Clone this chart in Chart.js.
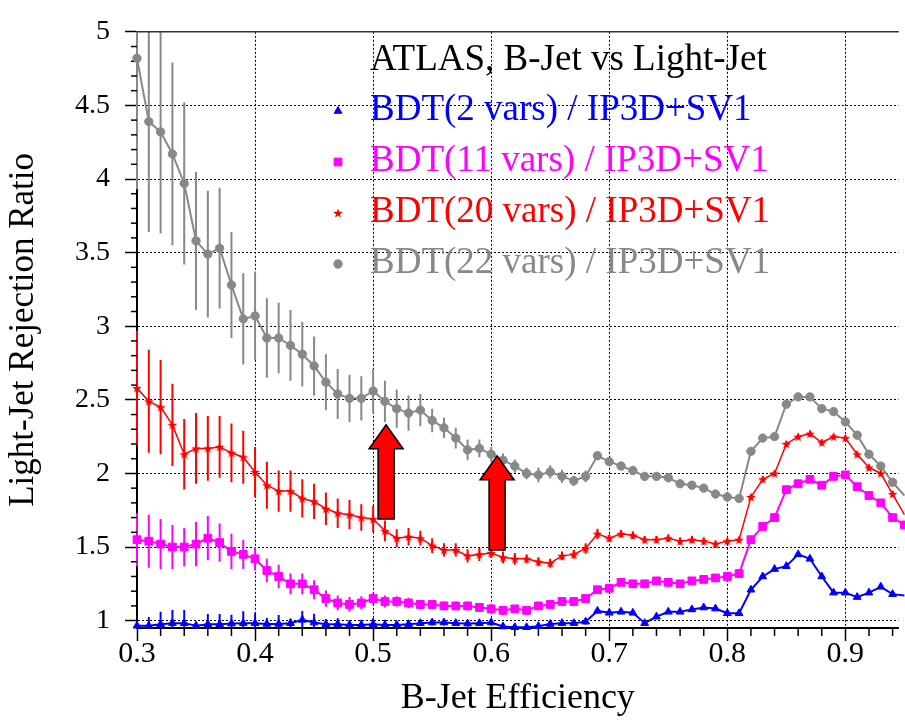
<!DOCTYPE html>
<html>
<head>
<meta charset="utf-8">
<script src="https://cdn.jsdelivr.net/npm/chart.js@4/dist/chart.umd.min.js"></script>
<style>
  html, body { margin: 0; padding: 0; background: #fff; }
  #wrap { width: 905px; height: 720px; }
</style>
</head>
<body>
<div id="wrap"><canvas id="chart" width="905" height="720"></canvas></div>
<script>
// b-jet efficiency points
const effs = [
  0.30, 0.31, 0.32, 0.33, 0.34, 0.35, 0.36, 0.37, 0.38, 0.39,
  0.40, 0.41, 0.42, 0.43, 0.44, 0.45, 0.46, 0.47, 0.48, 0.49,
  0.50, 0.51, 0.52, 0.53, 0.54, 0.55, 0.56, 0.57, 0.58, 0.59,
  0.60, 0.61, 0.62, 0.63, 0.64, 0.65, 0.66, 0.67, 0.68, 0.69,
  0.70, 0.71, 0.72, 0.73, 0.74, 0.75, 0.76, 0.77, 0.78, 0.79,
  0.80, 0.81, 0.82, 0.83, 0.84, 0.85, 0.86, 0.87, 0.88, 0.89,
  0.90, 0.91, 0.92, 0.93, 0.94, 0.95
];

const bdt2 = [
  0.965, 0.965, 0.975, 0.983, 0.983, 0.965, 0.975, 0.975, 0.98, 0.983,
  0.983, 0.978, 0.978, 0.983, 1.005, 0.987, 0.976, 0.976, 0.971, 0.971,
  0.976, 0.971, 0.971, 0.976, 0.983, 0.987, 0.987, 0.983, 0.98, 0.983,
  0.987, 0.96, 0.955, 0.955, 0.962, 0.978, 0.983, 0.983, 0.993, 1.066,
  1.053, 1.06, 1.053, 0.983, 1.027, 1.06, 1.06, 1.076, 1.089, 1.082,
  1.05, 1.05, 1.21, 1.30, 1.35, 1.37, 1.45, 1.42, 1.30, 1.19,
  1.19, 1.16, 1.19, 1.23, 1.18, 1.17
];
const bdt2Err = [
  0.03, 0.06, 0.085, 0.09, 0.09, 0.03, 0.07, 0.07, 0.06, 0.08,
  0.07, 0.04, 0.06, 0.03, 0.06, 0.06, 0.035, 0.04, 0.03, 0.035,
  0.04, 0.035, 0.025, 0.025, 0.02, 0.02, 0.02, 0.02, 0.02, 0.02,
  0.02, 0.02, 0.02, 0.02, 0.02, 0.02, 0.02, 0.02, 0.02, 0.015,
  0.015, 0.015, 0.015, 0.015, 0.015, 0.015, 0.015, 0.015, 0.015, 0.015,
  0.015, 0.015, 0.015, 0.015, 0.015, 0.015, 0.015, 0.015, 0.015, 0.015,
  0.015, 0.015, 0.015, 0.015, 0.015, 0.015
];

const bdt11 = [
  1.55, 1.54, 1.52, 1.50, 1.50, 1.52, 1.56, 1.53, 1.47, 1.45,
  1.42, 1.34, 1.30, 1.25, 1.25, 1.21, 1.15, 1.12, 1.11, 1.12,
  1.15, 1.13, 1.13, 1.12, 1.11, 1.11, 1.10, 1.10, 1.10, 1.09,
  1.08, 1.07, 1.08, 1.07, 1.10, 1.11, 1.13, 1.13, 1.15, 1.21,
  1.22, 1.26, 1.25, 1.25, 1.27, 1.26, 1.25, 1.27, 1.28, 1.29,
  1.30, 1.32, 1.55, 1.64, 1.70, 1.89, 1.93, 1.96, 1.92, 1.98,
  1.99, 1.91, 1.85, 1.80, 1.70, 1.65
];
const bdt11Err = [
  0.18, 0.18, 0.17, 0.15, 0.13, 0.15, 0.15, 0.13, 0.12, 0.10,
  0.08, 0.08, 0.08, 0.07, 0.07, 0.065, 0.055, 0.05, 0.05, 0.045,
  0.04, 0.04, 0.035, 0.035, 0.03, 0.03, 0.03, 0.03, 0.03, 0.03,
  0.03, 0.03, 0.025, 0.025, 0.025, 0.025, 0.025, 0.025, 0.025, 0.02,
  0.02, 0.02, 0.02, 0.02, 0.02, 0.02, 0.02, 0.02, 0.02, 0.02,
  0.02, 0.02, 0.02, 0.02, 0.02, 0.02, 0.02, 0.02, 0.02, 0.02,
  0.02, 0.02, 0.02, 0.02, 0.02, 0.02
];

const bdt20 = [
  2.58, 2.49, 2.45, 2.33, 2.13, 2.17, 2.17, 2.18, 2.14, 2.11,
  2.01, 1.92, 1.88, 1.88, 1.83, 1.81, 1.76, 1.73, 1.72, 1.70,
  1.69, 1.61, 1.56, 1.57, 1.56, 1.51, 1.48, 1.48, 1.44, 1.45,
  1.46, 1.43, 1.42, 1.42, 1.40, 1.39, 1.44, 1.45, 1.49, 1.59,
  1.56, 1.59, 1.58, 1.55, 1.55, 1.56, 1.54, 1.55, 1.54, 1.52,
  1.54, 1.55, 1.84, 1.96, 2.00, 2.20, 2.25, 2.27, 2.21, 2.25,
  2.24, 2.13, 2.04, 2.00, 1.86, 1.72
];
const bdt20Err = [
  0.39, 0.35, 0.32, 0.28, 0.24, 0.24, 0.22, 0.21, 0.20, 0.18,
  0.17, 0.16, 0.14, 0.14, 0.13, 0.12, 0.11, 0.10, 0.10, 0.09,
  0.09, 0.07, 0.06, 0.06, 0.05, 0.05, 0.045, 0.045, 0.045, 0.045,
  0.035, 0.04, 0.04, 0.03, 0.03, 0.03, 0.03, 0.03, 0.035, 0.035,
  0.025, 0.025, 0.025, 0.025, 0.025, 0.025, 0.025, 0.025, 0.025, 0.025,
  0.02, 0.02, 0.02, 0.02, 0.02, 0.02, 0.02, 0.02, 0.02, 0.02,
  0.02, 0.02, 0.02, 0.02, 0.02, 0.02
];

const bdt22 = [
  4.82, 4.39, 4.32, 4.17, 3.97, 3.58, 3.49, 3.53, 3.28, 3.05,
  3.07, 2.92, 2.92, 2.87, 2.81, 2.73, 2.62, 2.54, 2.51, 2.51,
  2.56, 2.49, 2.44, 2.41, 2.43, 2.36, 2.31, 2.24, 2.16, 2.17,
  2.13, 2.09, 2.05, 2.00, 1.99, 2.01, 1.98, 1.95, 1.98, 2.12,
  2.08, 2.05, 2.02, 1.98, 1.98, 1.97, 1.93, 1.92, 1.90, 1.86,
  1.84, 1.83, 2.15, 2.24, 2.25, 2.47, 2.52, 2.52, 2.44, 2.42,
  2.35, 2.26, 2.13, 2.05, 1.94, 1.85
];
const bdt22Err = [
  0.89, 0.75, 0.69, 0.62, 0.55, 0.47, 0.43, 0.41, 0.36, 0.31,
  0.30, 0.27, 0.24, 0.24, 0.22, 0.20, 0.19, 0.17, 0.16, 0.15,
  0.15, 0.14, 0.13, 0.12, 0.11, 0.08, 0.07, 0.07, 0.07, 0.06,
  0.05, 0.045, 0.045, 0.04, 0.05, 0.045, 0.045, 0.035, 0.04, 0.02,
  0.02, 0.02, 0.02, 0.02, 0.02, 0.02, 0.02, 0.02, 0.02, 0.02,
  0.02, 0.02, 0.02, 0.02, 0.02, 0.02, 0.02, 0.02, 0.02, 0.02,
  0.02, 0.02, 0.02, 0.02, 0.02, 0.02
];

const legendTitle = 'ATLAS, B-Jet vs Light-Jet';
const seriesLabels = [
  'BDT(2 vars) / IP3D+SV1',
  'BDT(11 vars) / IP3D+SV1',
  'BDT(20 vars) / IP3D+SV1',
  'BDT(22 vars) / IP3D+SV1'
];

// the two red arrows, in data units
const arrows = [
  { x: 0.511, from: 1.69, to: 2.33 },
  { x: 0.605, from: 1.48, to: 2.12 }
];

const serif = 'Liberation Serif';
const onStep = (v, s) => Math.abs(v / s - Math.round(v / s)) < 1e-6;
const pts = ys => effs.map((x, i) => ({ x: x, y: ys[i] }));

// tick positions: x every 0.02 (labels each 0.1), y every 0.1 (labels each 0.5)
function tickList(from, to, step) {
  const out = [];
  const n = Math.round((to - from) / step);
  for (let i = 0; i <= n; i++) out.push({ value: Math.round((from + i * step) * 1000) / 1000 });
  return out;
}

// small filled star for the 20 vars series
function starImage(color, size) {
  const c = document.createElement('canvas');
  c.width = size; c.height = size;
  const g = c.getContext('2d');
  const r = size / 2, ri = r * 0.42;
  g.fillStyle = color;
  g.beginPath();
  for (let i = 0; i < 10; i++) {
    const a = -Math.PI / 2 + i * Math.PI / 5;
    const rr = i % 2 ? ri : r;
    g.lineTo(r + rr * Math.cos(a), r + 0.5 + rr * Math.sin(a));
  }
  g.closePath();
  g.fill();
  return c;
}

function series(label, ys, errs, color, style, radius, width) {
  return {
    label: label,
    data: pts(ys),
    errors: errs,
    borderColor: color,
    backgroundColor: color,
    pointBackgroundColor: color,
    pointBorderColor: color,
    pointStyle: style,
    pointRadius: radius,
    pointBorderWidth: 1,
    borderWidth: width,
    tension: 0,
    clip: false
  };
}

const errorBars = {
  id: 'errorBars',
  beforeDatasetsDraw(chart) {
    const { ctx, chartArea: a, scales: { x, y } } = chart;
    ctx.save();
    ctx.beginPath();
    ctx.rect(a.left - 2, a.top, a.right - a.left + 2, a.bottom - a.top);
    ctx.clip();
    chart.data.datasets.forEach(ds => {
      ctx.strokeStyle = ds.borderColor;
      ctx.lineWidth = 2;
      ds.data.forEach((p, i) => {
        const e = ds.errors[i];
        const px = x.getPixelForValue(p.x);
        ctx.beginPath();
        ctx.moveTo(px, y.getPixelForValue(p.y - e));
        ctx.lineTo(px, y.getPixelForValue(p.y + e));
        ctx.stroke();
      });
    });
    ctx.restore();
  }
};

const frame = {
  id: 'frame',
  beforeDatasetsDraw(chart) {
    const { ctx, chartArea: a, scales: { x, y } } = chart;
    ctx.save();
    ctx.strokeStyle = '#000';
    ctx.lineWidth = 1.5;
    // minor ticks
    x.ticks.forEach(t => {
      if (onStep(t.value, 0.1)) return;
      const px = x.getPixelForValue(t.value);
      ctx.beginPath(); ctx.moveTo(px, a.bottom); ctx.lineTo(px, a.bottom + 8); ctx.stroke();
    });
    y.ticks.forEach(t => {
      if (onStep(t.value, 0.5)) return;
      const py = y.getPixelForValue(t.value);
      ctx.beginPath(); ctx.moveTo(a.left - 6, py); ctx.lineTo(a.left, py); ctx.stroke();
    });
    // top border
    ctx.strokeStyle = '#333';
    ctx.beginPath(); ctx.moveTo(a.left, a.top); ctx.lineTo(a.right, a.top); ctx.stroke();
    ctx.restore();
  }
};

const arrowMarks = {
  id: 'arrowMarks',
  afterDatasetsDraw(chart) {
    const { ctx, scales: { x, y } } = chart;
    ctx.save();
    ctx.fillStyle = '#ff0000';
    ctx.strokeStyle = '#000';
    ctx.lineWidth = 1.5;
    arrows.forEach(ar => {
      const cx = x.getPixelForValue(ar.x);
      const yb = y.getPixelForValue(ar.from);
      const yt = y.getPixelForValue(ar.to);
      const yh = yt + 24;
      ctx.beginPath();
      ctx.moveTo(cx - 8, yb);
      ctx.lineTo(cx - 8, yh);
      ctx.lineTo(cx - 17, yh);
      ctx.lineTo(cx, yt);
      ctx.lineTo(cx + 17, yh);
      ctx.lineTo(cx + 8, yh);
      ctx.lineTo(cx + 8, yb);
      ctx.closePath();
      ctx.fill();
      ctx.stroke();
    });
    ctx.restore();
  }
};

const legendBox = {
  id: 'legendBox',
  afterDraw(chart) {
    const ctx = chart.ctx;
    ctx.save();
    ctx.font = '37px "' + serif + '"';
    ctx.textBaseline = 'alphabetic';
    ctx.textAlign = 'left';
    ctx.fillStyle = '#000';
    ctx.fillText(legendTitle, 370, 70);
    chart.data.datasets.forEach((ds, i) => {
      const base = 120 + i * 51;
      ctx.fillStyle = ds.borderColor;
      ctx.strokeStyle = ds.borderColor;
      ctx.lineWidth = ds.pointBorderWidth;
      Chart.helpers.drawPoint(ctx, {
        pointStyle: ds.pointStyle,
        radius: ds.pointRadius,
        rotation: 0,
        borderWidth: ds.pointBorderWidth
      }, 338, base - 9);
      ctx.fillStyle = ds.borderColor;
      ctx.fillText(ds.label, 370, base);
    });
    ctx.restore();
  }
};

const xMajor = v => onStep(v, 0.1);
const yMajor = v => onStep(v, 0.5);

new Chart(document.getElementById('chart'), {
  type: 'line',
  data: {
    datasets: [
      series(seriesLabels[0], bdt2, bdt2Err, '#0000ff', 'triangle', 4.5, 2),
      series(seriesLabels[1], bdt11, bdt11Err, '#ff00ff', 'rect', 5.5, 2),
      series(seriesLabels[2], bdt20, bdt20Err, '#ff0000', starImage('#ff0000', 10), 4, 1.5),
      series(seriesLabels[3], bdt22, bdt22Err, '#888888', 'circle', 4.2, 2)
    ]
  },
  options: {
    responsive: false,
    devicePixelRatio: 1,
    animation: false,
    layout: { padding: { top: 18, right: 0, left: 0, bottom: 0 } },
    plugins: {
      legend: { display: false },
      tooltip: { enabled: false }
    },
    scales: {
      x: {
        type: 'linear',
        min: 0.3,
        max: 0.945,
        afterFit: s => { s.height = 92; },
        afterBuildTicks: s => { s.ticks = tickList(0.3, 0.94, 0.02); },
        ticks: {
          autoSkip: false,
          maxRotation: 0,
          padding: 1,
          color: '#000',
          font: { family: serif, size: 30, lineHeight: 0.8 },
          callback: v => xMajor(v) ? v.toFixed(1) : ''
        },
        grid: {
          color: c => xMajor(c.tick.value) ? '#000' : 'rgba(0,0,0,0)',
          tickColor: c => xMajor(c.tick.value) ? '#000' : 'rgba(0,0,0,0)',
          lineWidth: 1,
          tickWidth: 1.5,
          tickLength: 13
        },
        border: { display: true, color: '#000', width: 2, dash: [2, 2] },
        title: {
          display: true,
          text: 'B-Jet Efficiency',
          color: '#000',
          font: { family: serif, size: 36 },
          padding: { top: 0, bottom: 0 }
        }
      },
      y: {
        min: 0.95,
        max: 5,
        afterFit: s => { s.width = 137; },
        afterBuildTicks: s => { s.ticks = tickList(1, 5, 0.1); },
        ticks: {
          autoSkip: false,
          padding: 15,
          color: '#000',
          font: { family: serif, size: 28 },
          callback: v => yMajor(v) ? String(Math.round(v * 10) / 10) : ''
        },
        grid: {
          color: c => yMajor(c.tick.value) ? '#000' : 'rgba(0,0,0,0)',
          tickColor: c => yMajor(c.tick.value) ? '#000' : 'rgba(0,0,0,0)',
          lineWidth: 1,
          tickWidth: 1.5,
          tickLength: 12
        },
        border: { display: true, color: '#000', width: 2, dash: [2, 2] },
        title: {
          display: true,
          text: 'Light-Jet Rejection Ratio',
          color: '#000',
          font: { family: serif, size: 35 },
          padding: { top: 3, bottom: 0 }
        }
      }
    }
  },
  plugins: [errorBars, frame, arrowMarks, legendBox]
});
</script>
</body>
</html>
